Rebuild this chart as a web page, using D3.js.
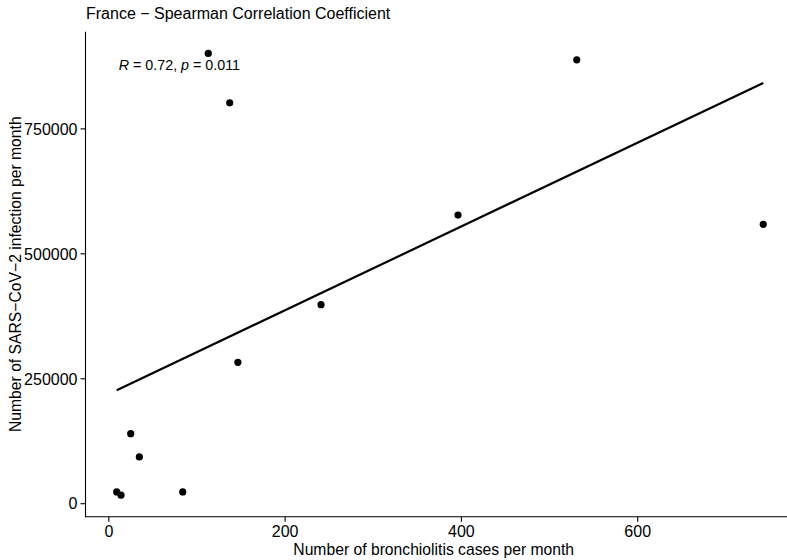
<!DOCTYPE html>
<html>
<head>
<meta charset="utf-8">
<script src="https://cdn.jsdelivr.net/npm/d3@7"></script>
<style>
  html, body { margin: 0; padding: 0; background: #fff; }
  svg { display: block; font-family: "Liberation Sans", Arial, Helvetica, sans-serif; }
</style>
</head>
<body>
<svg id="chart" width="787" height="560"></svg>
<script>
// ---- data ----
const bronchiolitis = [113.4, 137.7, 531.4, 743, 396.7, 241.3, 147, 25.4, 35.2, 9.5, 14.4, 84.4];
const sarsCov2      = [900000, 801200, 887200, 558000, 576600, 397200, 282000, 139200, 92600, 22600, 16000, 22600];
const xTicks = [0, 200, 400, 600];
const yTicks = [0, 250000, 500000, 750000];
const titleText = "France \u2212 Spearman Correlation Coefficient";
const xTitle = "Number of bronchiolitis cases per month";
const yTitle = "Number of SARS\u2212CoV\u22122 infection per month";
const statR = "0.72", statP = "0.011";

(function () {
const points = bronchiolitis.map((x, i) => ({x, y: sarsCov2[i]}));

// ---- layout ----
const svg = d3.select("#chart");
const pLeft = 85.5, pRight = 795, pTop = 31.7, pBottom = 516.7;

const x = d3.scaleLinear().domain([-25.9, 779]).range([pLeft, pRight]);
const y = d3.scaleLinear().domain([-27000, 943500]).range([pBottom, pTop]);

// linear fit (OLS)
const mx = d3.mean(points, d => d.x), my = d3.mean(points, d => d.y);
const sxy = d3.sum(points, d => (d.x - mx) * (d.y - my));
const sxx = d3.sum(points, d => (d.x - mx) ** 2);
const slope = sxy / sxx, intercept = my - slope * mx;
const [xmin, xmax] = d3.extent(points, d => d.x);

// axes
const xAxis = d3.axisBottom(x).tickValues(xTicks).tickSize(5).tickPadding(4).tickFormat(d3.format("d"));
const yAxis = d3.axisLeft(y).tickValues(yTicks).tickSize(5).tickPadding(3).tickFormat(d3.format("d"));

const gx = svg.append("g").attr("transform", `translate(0,${pBottom})`).call(xAxis);
const gy = svg.append("g").attr("transform", `translate(${pLeft},0)`).call(yAxis);
[gx, gy].forEach(g => {
  g.select(".domain").remove();
  g.selectAll(".tick line").attr("stroke", "#000").attr("stroke-width", 1.1);
  g.selectAll(".tick text").attr("fill", "#000").style("font-size", "16px")
   .style("font-family", "'Liberation Sans', Arial, sans-serif");
});
gy.selectAll(".tick text").attr("dy", "0.36em");

// axis lines
svg.append("line").attr("x1", pLeft).attr("x2", 787).attr("y1", pBottom).attr("y2", pBottom)
  .attr("stroke", "#000").attr("stroke-width", 1.1);
svg.append("line").attr("x1", pLeft).attr("x2", pLeft).attr("y1", pTop).attr("y2", pBottom + 0.55)
  .attr("stroke", "#000").attr("stroke-width", 1.1);

// fit line
svg.append("line")
  .attr("x1", x(xmin)).attr("y1", y(intercept + slope * xmin))
  .attr("x2", x(xmax)).attr("y2", y(intercept + slope * xmax))
  .attr("stroke", "#000").attr("stroke-width", 2.2);

// points
svg.append("g").selectAll("circle").data(points).join("circle")
  .attr("cx", d => x(d.x)).attr("cy", d => y(d.y)).attr("r", 3.6).attr("fill", "#000");

// annotation
const ann = svg.append("text").attr("x", x(xmin) + 2).attr("y", 69.5)
  .style("font-size", "14.3px").attr("fill", "#000");
ann.append("tspan").style("font-style", "italic").text("R");
ann.append("tspan").text(" = " + statR + ", ");
ann.append("tspan").style("font-style", "italic").text("p");
ann.append("tspan").text(" = " + statP);

// title
svg.append("text").attr("x", pLeft + 0.5).attr("y", 19).style("font-size", "16px").attr("fill", "#000").text(titleText);

// axis titles
svg.append("text").attr("x", 433.7).attr("y", 555).attr("text-anchor", "middle")
  .style("font-size", "15.7px").attr("fill", "#000").text(xTitle);
svg.append("text").attr("transform", `translate(21,${(pTop + pBottom) / 2}) rotate(-90)`)
  .attr("text-anchor", "middle").style("font-size", "15.7px").attr("fill", "#000").text(yTitle);
})();
</script>
</body>
</html>
